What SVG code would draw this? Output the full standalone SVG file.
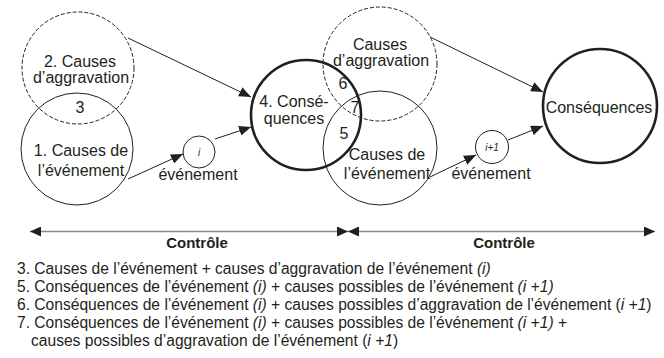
<svg xmlns="http://www.w3.org/2000/svg" width="664" height="358" viewBox="0 0 664 358">
<defs>
<style>
text{font-family:"Liberation Sans",Arial,sans-serif;font-size:16px;fill:#231f20}
.c{text-anchor:middle}
.it{font-style:italic}
.b{font-weight:bold}
.thin{fill:#fff;fill-opacity:0;stroke:#231f20;stroke-width:1}
.dash{fill:none;stroke:#231f20;stroke-width:1;stroke-dasharray:4 2}
.bold{fill:none;stroke:#231f20;stroke-width:2.6}
.small{fill:#fff;stroke:#231f20;stroke-width:1}
.arr{stroke:#231f20;stroke-width:1;fill:none;marker-end:url(#ah)}
.ctl{stroke:#8a8a8a;stroke-width:1.6;fill:none;marker-start:url(#ch);marker-end:url(#ch)}
.leg{font-size:15.6px}
</style>
<marker id="ah" markerUnits="userSpaceOnUse" markerWidth="13" markerHeight="10" refX="12" refY="5" orient="auto" viewBox="0 0 13 10">
<path d="M0,0 L12,5 L0,10 z" fill="#231f20"/>
</marker>
<marker id="ch" markerUnits="userSpaceOnUse" markerWidth="12" markerHeight="10" refX="11" refY="5" orient="auto-start-reverse" viewBox="0 0 12 10">
<path d="M0,0 L11,5 L0,10 z" fill="#231f20"/>
</marker>
</defs>
<rect width="664" height="358" fill="#fff"/>

<g id="n2-aggravation">
<circle class="dash" cx="78" cy="68" r="56"/>
<text class="c" x="80" y="67">2. Causes</text>
<text class="c" x="81" y="83">d’aggravation</text>
</g>
<g id="n1-causes">
<circle class="thin" cx="77" cy="149" r="56"/>
<text class="c" x="80" y="113">3</text>
<text class="c" x="81" y="156">1. Causes de</text>
<text class="c" x="81" y="176">l’événement</text>
</g>
<g id="n-i">
<circle class="small" cx="199" cy="152" r="16"/>
<text class="c it" x="199" y="156" style="font-size:10px">i</text>
<text class="c" x="198" y="180">événement</text>
</g>
<g id="n4-consequences">
<circle class="bold" cx="306" cy="115" r="55"/>
<text class="c" x="294" y="107">4. Consé-</text>
<text class="c" x="294" y="124">quences</text>
</g>
<g id="n-aggravation-next">
<circle class="dash" cx="380" cy="64" r="57"/>
<text class="c" x="380" y="50">Causes</text>
<text class="c" x="381" y="66">d’aggravation</text>
</g>
<g id="n-causes-next">
<circle class="thin" cx="380" cy="148" r="57"/>
<text class="c" x="387" y="160">Causes de</text>
<text class="c" x="387" y="179">l’événement</text>
</g>
<g id="n-overlaps">
<text class="c" x="343" y="89">6</text>
<text class="c" x="355" y="113">7</text>
<text class="c" x="344" y="139">5</text>
</g>
<g id="n-i1">
<circle class="small" cx="492" cy="147" r="16.5"/>
<text class="c it" x="492" y="151" style="font-size:10px">i+1</text>
<text class="c" x="491" y="179">événement</text>
</g>
<g id="n-consequences-next">
<circle class="bold" cx="600" cy="106" r="57"/>
<text class="c" x="599" y="113">Conséquences</text>
</g>

<g id="connectors">
<line class="arr" x1="128" y1="38" x2="251" y2="97"/>
<line class="arr" x1="128" y1="179" x2="183" y2="154"/>
<line class="arr" x1="215" y1="139" x2="251" y2="127"/>
<line class="arr" x1="430" y1="37" x2="543" y2="92"/>
<line class="arr" x1="430" y1="177" x2="476" y2="155"/>
<line class="arr" x1="508" y1="140" x2="543" y2="126"/>
<line class="ctl" x1="30" y1="231.5" x2="348" y2="231.5"/>
<line class="ctl" x1="348" y1="231.5" x2="655" y2="231.5"/>
</g>

<g id="labels">
<text class="c b" x="197" y="248" style="font-size:15px">Contrôle</text>
<text class="c b" x="504" y="248" style="font-size:15px">Contrôle</text>
</g>

<g id="legend">
<text class="leg" x="17" y="274">3. Causes de l’événement + causes d’aggravation de l’événement <tspan class="it">(i)</tspan></text>
<text class="leg" x="17" y="292">5. Conséquences de l’événement <tspan class="it">(i)</tspan> + causes possibles de l’événement <tspan class="it">(i +1)</tspan></text>
<text class="leg" x="17" y="310">6. Conséquences de l’événement <tspan class="it">(i)</tspan> + causes possibles d’aggravation de l’événement (<tspan class="it">i +1</tspan>)</text>
<text class="leg" x="17" y="328">7. Conséquences de l’événement <tspan class="it">(i)</tspan> + causes possibles de l’événement <tspan class="it">(i +1)</tspan> +</text>
<text class="leg" x="31" y="346">causes possibles d’aggravation de l’événement (<tspan class="it">i +1</tspan>)</text>
</g>
</svg>
